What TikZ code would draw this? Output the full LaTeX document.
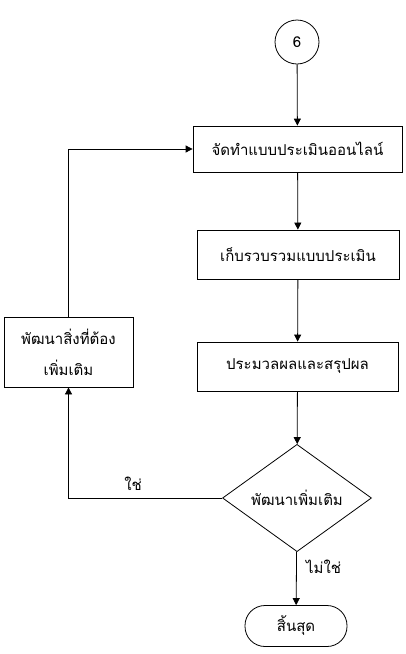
\documentclass[tikz,border=0pt]{standalone}
\usepackage{fontspec}
\newfontfamily\thaifont[Script=Thai]{Loma}
\usetikzlibrary{shapes.geometric,arrows.meta}
\begin{document}
\begin{tikzpicture}[x=1pt,y=1pt,line width=0.8pt,>={Triangle[length=7pt,width=7pt]},
    font=\thaifont\fontsize{15}{31}\selectfont]
    \tikzstyle{proc}=[draw,rectangle,minimum height=46pt,inner sep=2pt]
    \tikzstyle{conn}=[draw,circle,minimum size=44pt,inner sep=0pt]
    \tikzstyle{decide}=[draw,diamond,minimum width=149pt,minimum height=98pt,inner sep=0pt]
    \tikzstyle{stop}=[draw,rectangle,rounded corners=20pt,minimum width=102pt,minimum height=41pt]
    \useasboundingbox (0,0) rectangle (405,-654);
    \node[conn] (six) at (297,-42) {6};
    \node[proc,minimum width=209pt] (make) at (297.5,-149) {จัดทำแบบประเมินออนไลน์};
    \node[proc,minimum width=202pt,minimum height=49pt] (collect) at (298,-254.5) {เก็บรวบรวมแบบประเมิน};
    \node[proc,minimum width=201pt,minimum height=49pt] (process) at (297.5,-366.5) {ประมวลผลและสรุปผล};
    \node[decide] (more) at (297,-498) {พัฒนาเพิ่มเติม};
    \node[stop] (finish) at (296,-626) {สิ้นสุด};
    \node[proc,minimum width=129pt,minimum height=70pt,align=center] (improve) at (68.5,-352)
      {พัฒนาสิ่งที่ต้อง\\เพิ่มเติม};
    % main flow
    \draw[->] (six) -- (make);
    \draw[->] (make) -- (collect);
    \draw[->] (collect) -- (process);
    \draw[->] (process) -- (more);
    \draw[->] (more) -- node[right,pos=0.28,xshift=6pt] {ไม่ใช่} (finish);
    % loop back
    \draw[->] (more.west) -| node[above,pos=0.29,yshift=4pt] {ใช่} (improve.south);
    \draw[->] (improve.north) |- (make.west);
  \end{tikzpicture}
\end{document}
